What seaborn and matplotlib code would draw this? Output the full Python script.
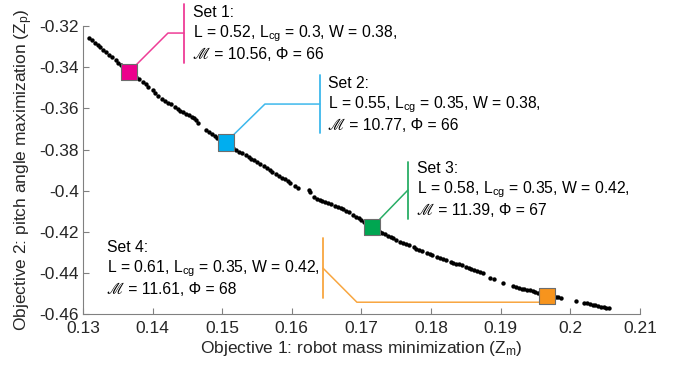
import matplotlib

matplotlib.use("Agg")
import matplotlib.pyplot as plt
import numpy as np
import pandas as pd
import seaborn as sns

# Pareto front (objective 1 = robot mass, objective 2 = pitch angle)
front_zm = [
    0.1309, 0.1313, 0.1317, 0.1321, 0.1325, 0.1329, 0.1333, 0.1337, 0.1341,
    0.1347, 0.1351, 0.1355, 0.1359, 0.1363,
    0.1372, 0.1376, 0.1380, 0.1386, 0.1390, 0.1394, 0.1400, 0.1404, 0.1408,
    0.1414, 0.1418, 0.1422, 0.1426, 0.1432, 0.1436, 0.1440, 0.1444, 0.1448,
    0.1452, 0.1456, 0.1460, 0.1463, 0.1465,
    0.1477, 0.1481, 0.1485, 0.1489, 0.1493, 0.1497, 0.1501,
    0.1512, 0.1516, 0.1520, 0.1524, 0.1528, 0.1534, 0.1538, 0.1542, 0.1546,
    0.1550, 0.1554, 0.1560, 0.1564, 0.1568, 0.1572, 0.1578, 0.1582, 0.1586,
    0.1590, 0.1594, 0.1598, 0.1605, 0.1609, 0.1624, 0.1626,
    0.1632, 0.1636, 0.1640, 0.1644, 0.1648, 0.1652, 0.1656,
    0.1662, 0.1666, 0.1670, 0.1674, 0.1678, 0.1682,
    0.1688, 0.1692, 0.1696, 0.1700, 0.1704, 0.1708, 0.1712,
    0.1722, 0.1726, 0.1730, 0.1734, 0.1738, 0.1742, 0.1746, 0.1750,
    0.1756, 0.1760, 0.1764, 0.1768, 0.1775, 0.1779, 0.1783, 0.1787,
    0.1794, 0.1798, 0.1802, 0.1809, 0.1813, 0.1817, 0.1821,
    0.1828, 0.1832, 0.1836, 0.1840, 0.1844,
    0.1850, 0.1854, 0.1858, 0.1862, 0.1866, 0.1870, 0.1874,
    0.1884, 0.1890, 0.1904,
    0.1918, 0.1922, 0.1926, 0.1930, 0.1934, 0.1938, 0.1942, 0.1946, 0.1950,
    0.1954, 0.1958, 0.1962,
    0.1975, 0.1979, 0.1983, 0.1987, 0.2008,
    0.2020, 0.2024, 0.2028, 0.2032, 0.2036, 0.2040, 0.2044, 0.2048, 0.2052, 0.2055,
]
front_zp = [
    -0.3257, -0.3269, -0.3281, -0.3292, -0.3304, -0.3316, -0.3327, -0.3339, -0.3350,
    -0.3367, -0.3378, -0.3390, -0.3402, -0.3414,
    -0.3437, -0.3446, -0.3456, -0.3472, -0.3483, -0.3494, -0.3512, -0.3525, -0.3538,
    -0.3554, -0.3563, -0.3572, -0.3581, -0.3595, -0.3604, -0.3612, -0.3620, -0.3627,
    -0.3634, -0.3641, -0.3648, -0.3658, -0.3670,
    -0.3706, -0.3716, -0.3725, -0.3733, -0.3742, -0.3750, -0.3758,
    -0.3785, -0.3794, -0.3803, -0.3811, -0.3818, -0.3829, -0.3837, -0.3845, -0.3852,
    -0.3860, -0.3868, -0.3881, -0.3890, -0.3899, -0.3907, -0.3919, -0.3928, -0.3936,
    -0.3945, -0.3953, -0.3962, -0.3978, -0.3987, -0.3999, -0.4008,
    -0.4030, -0.4038, -0.4044, -0.4050, -0.4056, -0.4062, -0.4067,
    -0.4075, -0.4080, -0.4086, -0.4091, -0.4097, -0.4104,
    -0.4117, -0.4126, -0.4135, -0.4144, -0.4153, -0.4162, -0.4172,
    -0.4192, -0.4199, -0.4205, -0.4212, -0.4219, -0.4226, -0.4232, -0.4239,
    -0.4249, -0.4255, -0.4261, -0.4266, -0.4275, -0.4281, -0.4286, -0.4292,
    -0.4301, -0.4306, -0.4312, -0.4322, -0.4328, -0.4333, -0.4338,
    -0.4346, -0.4350, -0.4354, -0.4358, -0.4362,
    -0.4370, -0.4375, -0.4380, -0.4385, -0.4390, -0.4395, -0.4402,
    -0.4422, -0.4430, -0.4447,
    -0.4465, -0.4469, -0.4473, -0.4476, -0.4479, -0.4482, -0.4485, -0.4488, -0.4492,
    -0.4496, -0.4500, -0.4505,
    -0.4513, -0.4515, -0.4517, -0.4520, -0.4537,
    -0.4545, -0.4548, -0.4551, -0.4554, -0.4557, -0.4561, -0.4564, -0.4567, -0.4570, -0.4572,
]

# highlighted design sets
set_names = ["Set 1", "Set 2", "Set 3", "Set 4"]
set_zm = [0.1366, 0.1505, 0.1715, 0.1967]
set_zp = [-0.3424, -0.3766, -0.4178, -0.4512]
set_L = ["0.52", "0.55", "0.58", "0.61"]
set_Lcg = ["0.3", "0.35", "0.35", "0.35"]
set_W = ["0.38", "0.38", "0.42", "0.42"]
set_M = ["10.56", "10.77", "11.39", "11.61"]
set_phi = ["66", "66", "67", "68"]

x_ticks = [0.13, 0.14, 0.15, 0.16, 0.17, 0.18, 0.19, 0.20, 0.21]
x_ticklabels = ["0.13", "0.14", "0.15", "0.16", "0.17", "0.18", "0.19", "0.2", "0.21"]
y_ticks = [-0.46, -0.44, -0.42, -0.40, -0.38, -0.36, -0.34, -0.32]
y_ticklabels = ["-0.46", "-0.44", "-0.42", "-0.4", "-0.38", "-0.36", "-0.34", "-0.32"]

fill_colors = ["#EC008C", "#00AEEF", "#00A651", "#F7941D"]
line_colors = ["#EE3D96", "#3DB8EC", "#29AE66", "#F8A640"]

sns.set_style("ticks")
plt.rcParams["font.family"] = ["Liberation Sans", "STIXGeneral", "DejaVu Sans"]
plt.rcParams["mathtext.fontset"] = "custom"
plt.rcParams["mathtext.rm"] = "Liberation Sans"
plt.rcParams["mathtext.it"] = "Liberation Sans:italic"
plt.rcParams["axes.unicode_minus"] = False

front = pd.DataFrame({"zm": front_zm, "zp": front_zp})
sets = pd.DataFrame({"name": set_names, "zm": set_zm, "zp": set_zp})

fig = plt.figure(figsize=(6.8, 3.67), dpi=100)
ax = fig.add_axes([0.122, 0.144, 0.819, 0.785])

sns.scatterplot(data=front, x="zm", y="zp", ax=ax, color="black", s=10,
                linewidth=0, zorder=3, legend=False)

# callout leader lines and vertical bars (data coords)
callouts = [
    dict(path=[(0.14221, -0.3234), (0.14451, -0.3234)], bar=(0.14451, -0.3093, -0.3380),
         text=(0.14580, -0.3236)),
    dict(path=[(0.15614, -0.3579), (0.16404, -0.3579)], bar=(0.16404, -0.3438, -0.3720),
         text=(0.16519, -0.3581)),
    dict(path=[(0.17668, -0.3997)], bar=(0.17668, -0.3861, -0.4138),
         text=(0.17797, -0.3994)),
    dict(path=[(0.16935, -0.4542), (0.16447, -0.4376)], bar=(0.16447, -0.4231, -0.4522),
         text=(0.13345, -0.4378)),
]

for i, c in enumerate(callouts):
    xs = [set_zm[i]] + [p[0] for p in c["path"]]
    if i == 3:
        # set 4 leader runs horizontally into the marker
        ys = [c["path"][0][1]] + [p[1] for p in c["path"]]
    else:
        ys = [set_zp[i]] + [p[1] for p in c["path"]]
    ax.plot(xs, ys, color=line_colors[i], lw=1.1, zorder=2, clip_on=False)
    bx, by0, by1 = c["bar"]
    ax.plot([bx, bx], [by0, by1], color=line_colors[i], lw=1.3, zorder=2, clip_on=False)
    label = (f"{set_names[i]}:\n"
             f"L = {set_L[i]}, L$_{{\\mathrm{{cg}}}}$ = {set_Lcg[i]}, W = {set_W[i]},\n"
             f"\u2133 = {set_M[i]}, \u03A6 = {set_phi[i]}")
    ax.text(c["text"][0], c["text"][1], label, ha="left", va="center",
            fontsize=11.3, linespacing=1.22, color="black", clip_on=False, zorder=5)

sns.scatterplot(data=sets, x="zm", y="zp", hue="name", palette=fill_colors,
                marker="s", s=135, edgecolor="#6d6d6d", linewidth=0.8,
                ax=ax, zorder=4, legend=False)

ax.set_xlim(0.13, 0.21)
ax.set_ylim(-0.46, -0.32)
ax.set_xticks(x_ticks)
ax.set_xticklabels(x_ticklabels)
ax.set_yticks(y_ticks)
ax.set_yticklabels(y_ticklabels)
ax.tick_params(direction="in", length=4, width=0.8, colors="#808080",
               labelcolor="#262626", labelsize=12.5)
ax.tick_params(axis="x", pad=5)
ax.tick_params(axis="y", pad=3)
for side in ["left", "bottom"]:
    ax.spines[side].set_color("#808080")
    ax.spines[side].set_linewidth(0.8)
sns.despine(ax=ax)

ax.set_xlabel("Objective 1: robot mass minimization (Z$_{\\mathrm{m}}$)",
              fontsize=12.5, color="#262626", labelpad=2)
ax.set_ylabel("Objective 2: pitch angle maximization (Z$_{\\mathrm{p}}$)",
              fontsize=12.5, color="#262626", labelpad=3)

fig.savefig("out.png", dpi=100)
